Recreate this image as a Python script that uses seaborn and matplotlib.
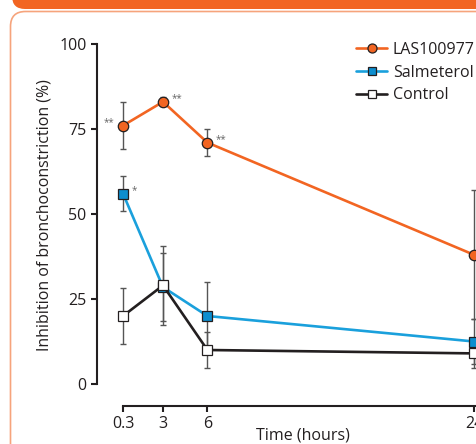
import numpy as np
import pandas as pd
import matplotlib
matplotlib.use("Agg")
import matplotlib.pyplot as plt
from matplotlib.patches import FancyBboxPatch
from matplotlib.lines import Line2D
import seaborn as sns

# ---- data ----
times = [0.3, 3, 6, 24]
series_names = ["LAS100977", "Salmeterol", "Control"]
las_mean = [76, 83, 71, 38]
las_err = [7, 1.3, 4, 19]
salm_mean = [56, 28.5, 20, 12.5]
salm_err = [5.2, 10, 10, 6.5]
ctrl_mean = [20, 29, 10, 9]
ctrl_err = [8.3, 11.5, 5.3, 4.3]
sig_las = ["**", "**", "**", ""]
sig_salm = ["*", "", "", ""]
xtick_labels = ["0.3", "3", "6", "24"]
ytick_values = [0, 25, 50, 75, 100]

sns.set_theme(style="ticks")
plt.rcParams["font.family"] = ["Open Sans", "DejaVu Sans"]

ink = "#231F20"
FS = 11.5
colors = {"LAS100977": "#F26522", "Salmeterol": "#1AA0DC", "Control": "#231F20"}
faces = {"LAS100977": "#F26522", "Salmeterol": "#0D8ECF", "Control": "white"}
markers = {"LAS100977": "o", "Salmeterol": "s", "Control": "s"}
msizes = {"LAS100977": 7.5, "Salmeterol": 6.5, "Control": 6.8}

means = {"LAS100977": las_mean, "Salmeterol": salm_mean, "Control": ctrl_mean}
errs = {"LAS100977": las_err, "Salmeterol": salm_err, "Control": ctrl_err}

df = pd.DataFrame({
    "Time": times * 3,
    "Value": las_mean + salm_mean + ctrl_mean,
    "Series": sum([[n] * len(times) for n in series_names], []),
})

W, H = 476, 444
fig = plt.figure(figsize=(W / 100, H / 100), dpi=100)

# header band and frame
band = FancyBboxPatch((12, H - 9), 520, 40, boxstyle="round,pad=0,rounding_size=13",
                      transform=None, facecolor="#F26522", edgecolor="none")
frame = FancyBboxPatch((10.5, -40), 520, H - 11.5 + 40, boxstyle="round,pad=0,rounding_size=15",
                       transform=None, facecolor="none", edgecolor="#F6A47C", linewidth=1.2)
fig.patches.extend([band, frame])

ax_left, ax_bottom, ax_right, ax_top = 97, 38, 476, 414
ax = fig.add_axes([ax_left / W, ax_bottom / H, (ax_right - ax_left) / W, (ax_top - ax_bottom) / H])
ax.set_facecolor("none")

# error bars
for name in ["Control", "Salmeterol", "LAS100977"]:
    ax.errorbar(times, means[name], yerr=errs[name], fmt="none", ecolor="#555555",
                elinewidth=1.0, capsize=2.5, capthick=1.0, zorder=2)

# lines with markers via seaborn
order_draw = ["Salmeterol", "Control", "LAS100977"]
for i, name in enumerate(order_draw):
    sub = df[df["Series"] == name]
    sns.lineplot(data=sub, x="Time", y="Value", ax=ax, color=colors[name], linewidth=1.9,
                 marker=markers[name], markersize=msizes[name], markerfacecolor=faces[name],
                 markeredgecolor=ink, markeredgewidth=0.9, zorder=3 + i, legend=False)

# significance markers
for t, m, s in zip(times, las_mean, sig_las):
    if s:
        if t == times[0]:
            ax.annotate(s, (t, m), xytext=(-6, 2), textcoords="offset points", ha="right",
                        va="center", fontsize=7, color="#666666")
        else:
            ax.annotate(s, (t, m), xytext=(6, 2), textcoords="offset points", ha="left",
                        va="center", fontsize=7, color="#666666")
for t, m, s in zip(times, salm_mean, sig_salm):
    if s:
        ax.annotate(s, (t, m), xytext=(6, 2), textcoords="offset points", ha="left",
                    va="center", fontsize=7, color="#666666")

# axes formatting
xscale = 351 / 23.7
ax.set_xlim(0.3 - (123 - ax_left) / xscale, 0.3 + (ax_right - 123) / xscale)
yscale = 3.4
ax.set_ylim(-(406 - 384) / yscale, 100 + (44 - (H - ax_top)) / yscale)
ax.set_xticks(times)
ax.set_xticklabels(xtick_labels)
ax.set_yticks(ytick_values)
ax.set_yticklabels([str(v) for v in ytick_values])
sns.despine(ax=ax, top=True, right=True)
ax.spines["left"].set_bounds(0, 100)
ax.spines["bottom"].set_bounds(0.3, 30)
for sp in ["left", "bottom"]:
    ax.spines[sp].set_linewidth(1.5)
    ax.spines[sp].set_color(ink)
ax.tick_params(axis="both", colors=ink, labelcolor=ink, width=1.5, length=4.5,
               labelsize=FS, pad=3)
ax.set_xlabel("Time (hours)", fontsize=FS, color=ink)
ax.set_ylabel("Inhibition of bronchoconstriction (%)", fontsize=FS, color=ink)
ax.xaxis.set_label_coords((302.5 - ax_left) / (ax_right - ax_left), -(427 - 406) / (ax_top - ax_bottom))
ax.yaxis.set_label_coords(-(97 - 53) / (ax_right - ax_left), (406 - 215) / (ax_top - ax_bottom))

# legend
handles = [Line2D([0], [0], color=colors[n], linewidth=1.9, marker=markers[n],
                  markersize=msizes[n] - 1, markerfacecolor=faces[n], markeredgecolor=ink,
                  markeredgewidth=0.9) for n in series_names]
leg = fig.legend(handles, series_names, loc="upper left",
                 bbox_to_anchor=(356 / W, 1 - 42 / H), frameon=False, fontsize=FS,
                 handlelength=1.95, handletextpad=0.35, labelspacing=0.42, borderpad=0,
                 borderaxespad=0)
for t in leg.get_texts():
    t.set_color(ink)

fig.savefig("out.png", dpi=100)
